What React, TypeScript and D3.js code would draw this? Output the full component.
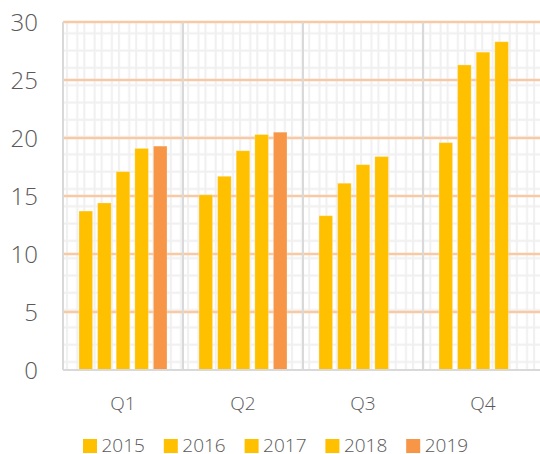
import React, { useRef, useEffect } from 'react';
import * as d3 from 'd3';

const quarters = ['Q1', 'Q2', 'Q3', 'Q4'];
const years = ['2015', '2016', '2017', '2018', '2019'];
const values2015 = [13.7, 15.1, 13.3, 19.6];
const values2016 = [14.4, 16.7, 16.1, 26.3];
const values2017 = [17.1, 18.9, 17.7, 27.4];
const values2018 = [19.1, 20.3, 18.4, 28.3];
const values2019: (number | null)[] = [19.3, 20.5, null, null];
const yTicks = [0, 5, 10, 15, 20, 25, 30];

const YEAR_COLORS: Record<string, string> = {
  '2015': '#ffc000',
  '2016': '#ffc000',
  '2017': '#ffc000',
  '2018': '#ffc000',
  '2019': '#f79646',
};

const series: Record<string, (number | null)[]> = {
  '2015': values2015,
  '2016': values2016,
  '2017': values2017,
  '2018': values2018,
  '2019': values2019,
};

const FONT = '"Open Sans", Lato, sans-serif';
const TEXT = '#595959';

export default function App() {
  const svgRef = useRef<SVGSVGElement>(null);

  useEffect(() => {
    if (!svgRef.current) return;
    const svg = d3.select(svgRef.current);
    svg.selectAll('*').remove();

    const width = 540;
    const height = 454;
    const plot = { left: 63, right: 543, top: 22, bottom: 370 };

    const x = d3.scaleBand().domain(quarters).range([plot.left, plot.right]).padding(0);
    const xInner = d3
      .scaleBand()
      .domain(years)
      .range([0, x.bandwidth()])
      .paddingInner(0.27)
      .paddingOuter(0.86);
    const y = d3.scaleLinear().domain([0, 30]).range([plot.bottom, plot.top]);

    svg.attr('width', width).attr('height', height);

    // background hatch pattern
    const defs = svg.append('defs');
    const pat = defs
      .append('pattern')
      .attr('id', 'bg-grid')
      .attr('patternUnits', 'userSpaceOnUse')
      .attr('x', plot.left + 3)
      .attr('y', plot.top + 3)
      .attr('width', 17.3)
      .attr('height', 17.3);
    pat.append('rect').attr('width', 17.3).attr('height', 17.3).attr('fill', '#ffffff');
    [0, 10.3].forEach((o) => {
      pat.append('rect').attr('x', o).attr('y', 0).attr('width', 2).attr('height', 17.3).attr('fill', '#f0f0f0');
      pat.append('rect').attr('x', 0).attr('y', o - 3).attr('width', 17.3).attr('height', 2).attr('fill', '#f0f0f0');
    });

    svg
      .append('rect')
      .attr('x', plot.left)
      .attr('y', plot.top)
      .attr('width', plot.right - plot.left)
      .attr('height', plot.bottom - plot.top)
      .attr('fill', 'url(#bg-grid)');

    // horizontal gridlines
    svg
      .append('g')
      .selectAll('line')
      .data(yTicks.filter((t) => t > 0))
      .enter()
      .append('line')
      .attr('x1', plot.left)
      .attr('x2', plot.right)
      .attr('y1', (d) => y(d))
      .attr('y2', (d) => y(d))
      .attr('stroke', '#f8c9a4')
      .attr('stroke-width', 2.5);

    // category dividers
    svg
      .append('g')
      .selectAll('line')
      .data(quarters)
      .enter()
      .append('line')
      .attr('x1', (d) => x(d) || 0)
      .attr('x2', (d) => x(d) || 0)
      .attr('y1', plot.top)
      .attr('y2', plot.bottom)
      .attr('stroke', '#d9d9d9')
      .attr('stroke-width', 2);

    // bars
    const barData = quarters.flatMap((q, i) =>
      years
        .filter((yr) => series[yr][i] != null)
        .map((yr) => ({ q, yr, v: series[yr][i] as number }))
    );

    svg
      .append('g')
      .selectAll('rect')
      .data(barData)
      .enter()
      .append('rect')
      .attr('x', (d) => (x(d.q) || 0) + (xInner(d.yr) || 0))
      .attr('y', (d) => y(d.v))
      .attr('width', xInner.bandwidth())
      .attr('height', (d) => y(0) - y(d.v))
      .attr('fill', (d) => YEAR_COLORS[d.yr])
      .attr('stroke', '#ffffff')
      .attr('stroke-opacity', 0.25)
      .attr('stroke-width', 1);

    // x axis line
    svg
      .append('line')
      .attr('x1', plot.left)
      .attr('x2', plot.right)
      .attr('y1', plot.bottom)
      .attr('y2', plot.bottom)
      .attr('stroke', '#d9d9d9')
      .attr('stroke-width', 2);

    // y labels
    svg
      .append('g')
      .selectAll('text')
      .data(yTicks)
      .enter()
      .append('text')
      .attr('x', 38)
      .attr('y', (d) => y(d))
      .attr('dy', '0.36em')
      .attr('text-anchor', 'end')
      .attr('fill', TEXT)
      .style('font-family', FONT)
      .style('font-weight', 300)
      .style('font-size', '24px')
      .text((d) => d);

    // x labels
    svg
      .append('g')
      .selectAll('text')
      .data(quarters)
      .enter()
      .append('text')
      .attr('x', (d) => (x(d) || 0) + x.bandwidth() / 2)
      .attr('y', 403)
      .attr('dy', '0.36em')
      .attr('text-anchor', 'middle')
      .attr('fill', TEXT)
      .style('font-family', FONT)
      .style('font-weight', 300)
      .style('font-size', '19px')
      .text((d) => d);

    // legend
    const legend = svg
      .append('g')
      .selectAll('g')
      .data(years)
      .enter()
      .append('g')
      .attr('transform', (d, i) => `translate(${83 + i * 80.8}, 445)`);
    legend
      .append('rect')
      .attr('x', 0)
      .attr('y', -6)
      .attr('width', 14)
      .attr('height', 14)
      .attr('fill', (d) => YEAR_COLORS[d]);
    legend
      .append('text')
      .attr('x', 18.5)
      .attr('y', 0)
      .attr('dy', '0.36em')
      .attr('fill', TEXT)
      .style('font-family', FONT)
      .style('font-weight', 300)
      .style('font-size', '19px')
      .text((d) => d);
  }, []);

  return (
    <div style={{ position: 'absolute', left: 0, top: 0, width: 540, height: 454, overflow: 'hidden', background: '#fff' }}>
      <svg ref={svgRef} style={{ display: 'block' }} />
    </div>
  );
}
